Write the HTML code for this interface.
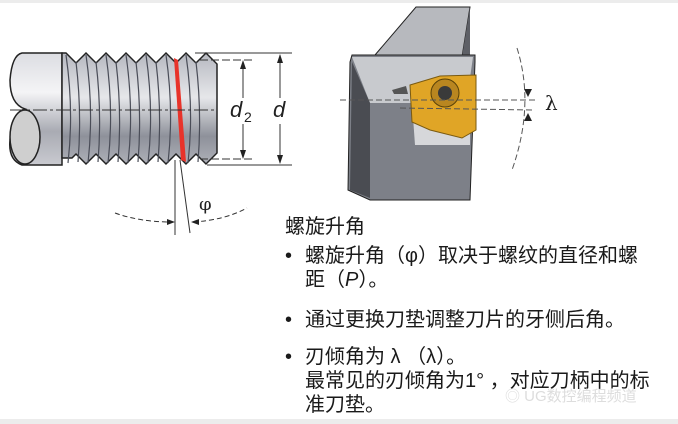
<!DOCTYPE html>
<html><head><meta charset="utf-8"><style>
body{margin:0;width:678px;height:424px;background:#fff;overflow:hidden;position:relative;font-family:"Liberation Sans","Noto Sans CJK SC",sans-serif;color:#1a1a1a}
.t{position:absolute;font-size:20px;white-space:nowrap;line-height:22px}
</style></head><body>
<div style="position:absolute;left:0;top:0;width:678px;height:3px;background:#ececec"></div>
<div style="position:absolute;left:0;bottom:0;width:678px;height:5px;background:#ececec"></div>
<svg width="678" height="424" style="position:absolute;left:0;top:0">
<defs>
<linearGradient id="cyl" x1="0" y1="0" x2="0" y2="1"><stop offset="0" stop-color="#dcdde2"/><stop offset=".35" stop-color="#f4f4f6"/><stop offset=".7" stop-color="#a9abb3"/><stop offset="1" stop-color="#c9cad0"/></linearGradient>
<linearGradient id="thr" x1="0" y1="0" x2="0" y2="1"><stop offset="0" stop-color="#b6b8c0"/><stop offset=".4" stop-color="#e6e7ea"/><stop offset=".75" stop-color="#8e919a"/><stop offset="1" stop-color="#aeb0b8"/></linearGradient>
</defs>
<path d="M22,53 H62 V165 H22 Q8,160 10,140 Q12,112 25,109 Q10,104 10,80 Q12,55 22,53Z" fill="url(#cyl)" stroke="#222" stroke-width="1.5"/>
<ellipse cx="25" cy="137" rx="15" ry="27" fill="#cfcfcf" stroke="#222" stroke-width="1.5"/>
<path d="M62,53 L66,53 l10,10 l10,-10 l10,10 l10,-10 l10,10 l10,-10 l10,10 l10,-10 l10,10 l10,-10 l10,10 l10,-10 l10,10 l10,-10 l11,11 V153 l-11,11 l-10,-10 l-10,10 l-10,-10 l-10,10 l-10,-10 l-10,10 l-10,-10 l-10,10 l-10,-10 l-10,10 l-10,-10 l-10,10 l-10,-10 l-4,4 H62Z" fill="url(#thr)" stroke="#222" stroke-width="1.5"/>
<g stroke="#4a4d58" stroke-width="1.2" fill="none">
<path d="M66,55 q8,55 2,108"/><path d="M86,55 q8,55 2,108"/><path d="M106,55 q8,55 2,108"/><path d="M126,55 q8,55 2,108"/><path d="M146,55 q8,55 2,108"/><path d="M166,55 q8,55 2,108"/><path d="M186,55 q8,55 2,108"/>
<path d="M76,62 q6,50 2,100"/><path d="M96,62 q6,50 2,100"/><path d="M116,62 q6,50 2,100"/><path d="M136,62 q6,50 2,100"/><path d="M156,62 q6,50 2,100"/><path d="M196,62 q6,50 2,100"/>
</g>
<path d="M174,58 L178,60 L186,162 L181,160Z" fill="#e8332a"/>
<g stroke="#333" stroke-width="1" stroke-dasharray="14,3,3,3" fill="none"><line x1="10" y1="110" x2="215" y2="110"/></g>
<g stroke="#333" stroke-width="1" fill="none">
<line x1="195" y1="53" x2="292" y2="53"/><line x1="207" y1="165" x2="292" y2="165"/>
<line x1="200" y1="60" x2="255" y2="60" stroke-dasharray="8,3"/><line x1="200" y1="159" x2="255" y2="159" stroke-dasharray="8,3"/>
<line x1="243" y1="62" x2="243" y2="98"/><line x1="243" y1="124" x2="243" y2="157"/>
<line x1="280" y1="55" x2="280" y2="98"/><line x1="280" y1="124" x2="280" y2="163"/>
<line x1="175" y1="160" x2="175" y2="235"/><line x1="180" y1="160" x2="190" y2="233"/>
<path d="M115,213 Q140,222 172,222" stroke-dasharray="5,3"/><path d="M193,222 Q225,220 247,208" stroke-dasharray="5,3"/>
</g>
<g fill="#222">
<path d="M243,60 l-3,9 h6z"/><path d="M243,159 l-3,-9 h6z"/><path d="M280,54 l-3,9 h6z"/><path d="M280,164 l-3,-9 h6z"/>
<path d="M175,222 l-8,-3 v6z"/><path d="M191,222 l8,-3 v6z"/>
</g>
<text x="230" y="117" font-family="Liberation Sans" font-size="22" font-style="italic" fill="#222">d</text>
<text x="244" y="122" font-family="Liberation Sans" font-size="14" fill="#222">2</text>
<text x="273" y="117" font-family="Liberation Sans" font-size="22" font-style="italic" fill="#222">d</text>
<text x="199" y="210" font-family="DejaVu Serif" font-size="18" fill="#222">φ</text>
<path d="M375,55 L416,7 H470 L462,57Z" fill="#b7b9be" stroke="#222"/>
<path d="M462,57 L470,7 L470,60Z" fill="#5d5f66"/>
<path d="M350,62 L352,55 H475 L475,62 L470,200 H370 L348,190Z" fill="#7d8088" stroke="#222"/>
<path d="M352,57 H473 L470,78 L440,82 L412,103 H370Z" fill="#c8cace"/>
<path d="M352,62 L370,103 V198 L350,190Z" fill="#4a4c52"/>
<path d="M412,103 H470 V145 H415Z" fill="#d6d7da"/>
<path d="M410,85 L440,76 L476,75 L476,130 L462,138 L430,130 L412,122Z" fill="#e0a526" stroke="#7a5a10"/>
<circle cx="445" cy="93" r="14" fill="#b98620" stroke="#5a4208"/><circle cx="445" cy="93" r="7" fill="#3a3a3a"/>
<path d="M392,90 l14,-4 l2,8 l-14,0z" fill="#555"/>
<g stroke="#555" stroke-width="1" fill="none" stroke-dasharray="6,3">
<line x1="340" y1="100" x2="535" y2="100"/><line x1="400" y1="108" x2="535" y2="110"/>
<path d="M517,48 Q535,105 512,170"/>
</g>
<path d="M528,97 l-4,-8 h8z M528,113 l-4,8 h8z" fill="#222"/>
<text x="545" y="110" font-family="DejaVu Serif" font-size="20" fill="#222">λ</text>
</svg>
<div class="t" style="left:285px;top:216px">螺旋升角</div>
<div class="t" style="left:285px;top:245px">•</div>
<div class="t" style="left:305px;top:245px">螺旋升角（φ）取决于螺纹的直径和螺</div>
<div class="t" style="left:305px;top:269px">距（<i>P</i>）。</div>
<div class="t" style="left:285px;top:309px">•</div>
<div class="t" style="left:305px;top:309px">通过更换刀垫调整刀片的牙侧后角。</div>
<div class="t" style="left:285px;top:346px">•</div>
<div class="t" style="left:305px;top:346px">刃倾角为 λ （λ）。</div>
<div class="t" style="left:305px;top:370px">最常见的刃倾角为1° ，对应刀柄中的标</div>
<div class="t" style="left:305px;top:394px">准刀垫。</div>
<div class="t" style="left:505px;top:386px;font-size:15px;color:#ddd">◎ UG数控编程频道</div>
</body></html>
